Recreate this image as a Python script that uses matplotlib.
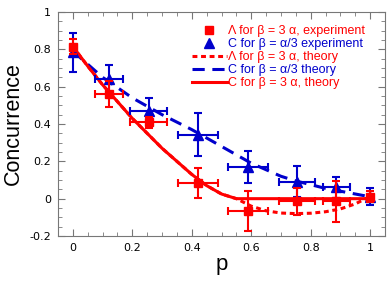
import numpy as np
import matplotlib.pyplot as plt
from matplotlib.lines import Line2D
from matplotlib.ticker import MultipleLocator

# experiment: Lambda for beta = 3 alpha (red squares)
p_exp = [0.0, 0.12, 0.255, 0.42, 0.59, 0.755, 0.886, 1.0]
lam_exp = [0.815, 0.563, 0.41, 0.086, -0.064, -0.015, -0.015, 0.01]
lam_xerr = [np.nan, 0.047, 0.063, 0.068, 0.068, 0.06, 0.045, np.nan]
lam_yerr = [0.04, 0.07, 0.03, 0.08, 0.107, 0.07, 0.11, 0.03]

# experiment: C for beta = alpha/3 (blue triangles)
c_exp = [0.785, 0.643, 0.47, 0.343, 0.17, 0.09, 0.06, 0.01]
c_xerr = [np.nan, 0.047, 0.063, 0.068, 0.068, 0.06, 0.045, np.nan]
c_yerr = [0.105, 0.075, 0.07, 0.115, 0.085, 0.083, 0.055, 0.045]

# theory curves
p_th = [0.0, 0.05, 0.1, 0.15, 0.2, 0.25, 0.3, 0.35, 0.4, 0.45, 0.5, 0.55,
        0.6, 0.65, 0.7, 0.75, 0.8, 0.85, 0.9, 0.95, 1.0]
c3_th = [0.815, 0.71, 0.61, 0.52, 0.43, 0.35, 0.27, 0.2, 0.13, 0.07, 0.025, 0.0,
         0.0, 0.0, 0.0, 0.0, 0.0, 0.0, 0.0, 0.0, 0.0]
lam_th = [0.815, 0.71, 0.61, 0.52, 0.43, 0.35, 0.27, 0.2, 0.13, 0.07, 0.025, 0.0,
          -0.04, -0.065, -0.077, -0.08, -0.078, -0.07, -0.055, -0.028, 0.012]
c13_th = [0.79, 0.72, 0.65, 0.595, 0.54, 0.495, 0.45, 0.41, 0.37, 0.325, 0.28,
          0.235, 0.19, 0.155, 0.12, 0.095, 0.075, 0.055, 0.04, 0.025, 0.01]

labels = ['Λ for β = 3 α, experiment', 'C for β = α/3 experiment',
          'Λ for β = 3 α, theory', 'C for β = α/3 theory', 'C for β = 3 α, theory']

red = '#ff0000'
blue = '#0000cc'

plt.rcParams['font.family'] = ['DejaVu Sans']
fig = plt.figure(figsize=(3.92, 2.84), dpi=100)
ax = fig.add_axes([58 / 392, 48 / 284, 327 / 392, 224 / 284])

ax.plot(p_th, lam_th, color=red, lw=2.2, dashes=(1.6, 1.2))
ax.plot(p_th, c13_th, color=blue, lw=2.2, dashes=(4, 2.5))
ax.plot(p_th, c3_th, '-', color=red, lw=2.2)
ax.errorbar(p_exp, c_exp, xerr=c_xerr, yerr=c_yerr, fmt='^', color=blue,
            ms=7, elinewidth=1.5, capsize=3, capthick=1.5, zorder=3)
ax.errorbar(p_exp, lam_exp, xerr=lam_xerr, yerr=lam_yerr, fmt='s', color=red,
            ms=5.5, elinewidth=1.5, capsize=3, capthick=1.5, zorder=4)

ax.set_xlim(-0.05, 1.05)
ax.set_ylim(-0.2, 1.0)
ax.xaxis.set_minor_locator(MultipleLocator(0.05))
ax.yaxis.set_minor_locator(MultipleLocator(0.05))
ax.set_xticks([0, 0.2, 0.4, 0.6, 0.8, 1.0], ['0', '0.2', '0.4', '0.6', '0.8', '1'])
ax.set_yticks([-0.2, 0, 0.2, 0.4, 0.6, 0.8, 1.0],
              ['-0.2', '0', '0.2', '0.4', '0.6', '0.8', '1'])
ax.tick_params(which='both', direction='in', top=True, right=True,
               labelsize=8, color='#777777', pad=5)
ax.tick_params(which='major', length=5)
ax.tick_params(which='minor', length=3)
for s in ax.spines.values():
    s.set_color('#777777')

ax.set_xlabel('p', fontsize=16, family='Liberation Sans', labelpad=1)
ax.set_ylabel('Concurrence', fontsize=15.5, family='Liberation Sans', labelpad=4)

handles = [
    Line2D([], [], ls='none', marker='s', ms=5.5, color=red),
    Line2D([], [], ls='none', marker='^', ms=7, color=blue),
    Line2D([], [], color=red, lw=2.2, dashes=(1.6, 1.2)),
    Line2D([], [], color=blue, lw=2.2, dashes=(4, 2.5)),
    Line2D([], [], color=red, lw=2.2),
]
leg = ax.legend(handles, labels, loc='upper right', frameon=False,
                bbox_to_anchor=(365 / 392, 1 - 25 / 284),
                bbox_transform=fig.transFigure, borderpad=0, borderaxespad=0,
                handlelength=2.8, handletextpad=0.1, labelspacing=0.08,
                prop={'family': 'Liberation Sans', 'size': 9.0})
for t, c in zip(leg.get_texts(), [red, blue, red, blue, red]):
    t.set_color(c)

fig.savefig('out.png', dpi=100)
